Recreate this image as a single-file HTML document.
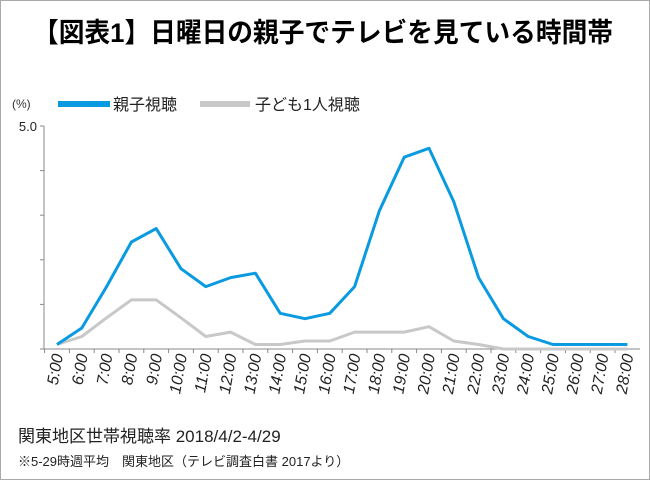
<!DOCTYPE html>
<html><head><meta charset="utf-8"><style>
html,body{margin:0;padding:0;background:#fff;}
svg{display:block;}
text{font-family:"Liberation Sans","Noto Sans CJK JP",sans-serif;}
</style></head><body>
<svg id="chart" width="650" height="480" viewBox="0 0 650 480">
<rect x="0.5" y="0.5" width="649" height="479" fill="#fff" stroke="#aaa"/>
<text x="33" y="42" font-size="27" font-weight="bold" textLength="580" lengthAdjust="spacingAndGlyphs">【図表1】日曜日の親子でテレビを見ている時間帯</text>
<text x="12" y="108" font-size="12" fill="#333">(%)</text>
<g>
<line x1="58" y1="104" x2="110" y2="104" stroke="#0a9ae0" stroke-width="6"/>
<text x="113" y="110" font-size="16" fill="#222">親子視聴</text>
<line x1="200" y1="104" x2="250" y2="104" stroke="#c8c8c8" stroke-width="6"/>
<text x="255" y="110" font-size="16" fill="#222">子ども1人視聴</text>
</g>
<g id="axes"></g>
<g id="series"></g>
<text x="18" y="442" font-size="17" fill="#222">関東地区世帯視聴率 2018/4/2-4/29</text>
<text x="18" y="466" font-size="13" fill="#222">※5-29時週平均　関東地区（テレビ調査白書 2017より）</text>
</svg>
<script>
const categories=["5:00","6:00","7:00","8:00","9:00","10:00","11:00","12:00","13:00","14:00","15:00","16:00","17:00","18:00","19:00","20:00","21:00","22:00","23:00","24:00","25:00","26:00","27:00","28:00"];
const parentChild=[0.1,0.47,1.4,2.4,2.7,1.8,1.4,1.6,1.7,0.8,0.68,0.8,1.4,3.1,4.3,4.5,3.3,1.6,0.68,0.28,0.1,0.1,0.1,0.1];
const childAlone=[0.1,0.28,0.7,1.1,1.1,0.7,0.28,0.38,0.1,0.1,0.18,0.18,0.38,0.38,0.38,0.5,0.18,0.1,0,0,0,0,0,0];
const yTicks=[0,1,2,3,4,5];
const yMax=5;
const NS="http://www.w3.org/2000/svg";
const x0=57,dx=24.8,axX=44,yZero=349,yTop=126;
function xs(i){return x0+i*dx;}
function ys(v){return yZero-(v/yMax)*(yZero-yTop);}
const axes=document.getElementById('axes');
function mk(tag,attrs,parent){const e=document.createElementNS(NS,tag);for(const k in attrs)e.setAttribute(k,attrs[k]);parent.appendChild(e);return e;}
let e=mk('line',{x1:axX,y1:yTop,x2:axX,y2:yZero,stroke:'#888','stroke-width':1},axes);


e=mk('line',{x1:axX,y1:yZero,x2:640,y2:yZero,stroke:'#888','stroke-width':1},axes);


yTicks.forEach(t=>{
  const l=mk('line',{x1:axX-4,y1:ys(t),x2:axX,y2:ys(t),stroke:'#888'},axes);
  
  
});
const lb=mk('text',{x:axX-7,y:ys(5)+5,'font-size':13,'text-anchor':'end',fill:'#222'},axes);
lb.textContent='5.0';


categories.forEach((c,i)=>{
  const tk=mk('line',{x1:xs(i)-12.4,y1:yZero,x2:xs(i)-12.4,y2:yZero+4,stroke:'#888'},axes);
  
  
  const x=xs(i)+6,y=yZero+6;
  const t=mk('text',{x:x,y:y,'font-size':16,'font-style':'italic','text-anchor':'end',fill:'#222',transform:`rotate(-80 ${x} ${y})`},axes);
  t.textContent=c;
  
  
});
const series=document.getElementById('series');
function pts(arr){return arr.map((v,i)=>xs(i).toFixed(1)+','+ys(v).toFixed(1)).join(' ');}
let p=mk('polyline',{points:pts(childAlone),fill:'none',stroke:'#c8c8c8','stroke-width':3,'stroke-linejoin':'round'},series);


p=mk('polyline',{points:pts(parentChild),fill:'none',stroke:'#0a9ae0','stroke-width':3,'stroke-linejoin':'round'},series);


</script>
</body></html>
